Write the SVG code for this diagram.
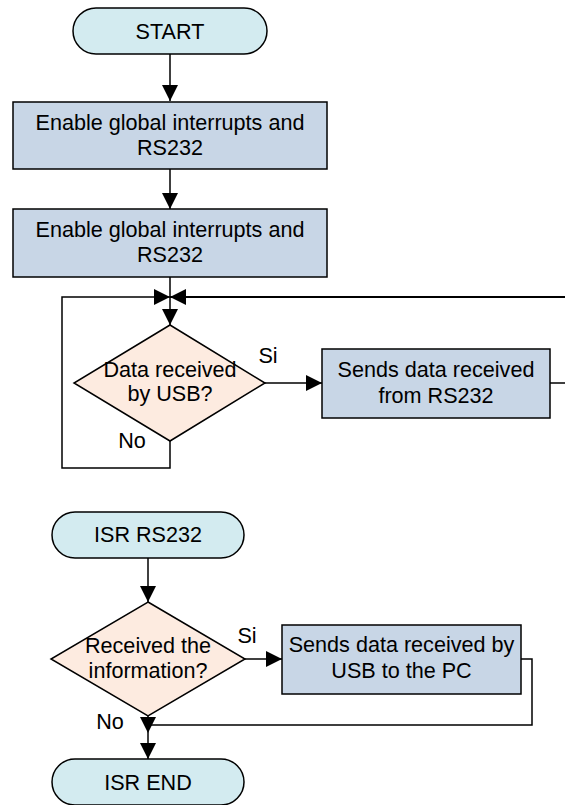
<svg xmlns="http://www.w3.org/2000/svg" width="565" height="805" viewBox="0 0 565 805">
<defs>
<style>
text{font-family:"Liberation Sans",Arial,sans-serif;font-size:21.6px;fill:#000;text-anchor:middle}
.term{fill:#d3ebf0;stroke:#000;stroke-width:1.5}
.proc{fill:#c8d6e6;stroke:#000;stroke-width:1.5}
.dec{fill:#fdebe0;stroke:#000;stroke-width:1.5}
.c{fill:none;stroke:#000;stroke-width:1.5}
</style>
<marker id="ah" markerUnits="userSpaceOnUse" markerWidth="16" markerHeight="16" refX="16" refY="8" orient="auto">
<path d="M0,0 L16,8 L0,16 z" fill="#000"/>
</marker>
</defs>
<g id="connectors">
<path class="c" d="M170,54 V101" marker-end="url(#ah)"/>
<path class="c" d="M170,169 V209" marker-end="url(#ah)"/>
<path class="c" d="M170,277 V325" marker-end="url(#ah)"/>
<path class="c" d="M170,441 V468 H62 V297 H170" marker-end="url(#ah)"/>
<path class="c" style="stroke-width:2" d="M565,297 H170" marker-end="url(#ah)"/>
<path class="c" d="M265,383 H322" marker-end="url(#ah)"/>
<path class="c" d="M550,383 H565"/>
<path class="c" d="M148,558 V602" marker-end="url(#ah)"/>
<path class="c" d="M245,659 H282" marker-end="url(#ah)"/>
<path class="c" d="M521,659 H532 V725 H148"/>
<path class="c" d="M148,716 V733" marker-end="url(#ah)"/>
<path class="c" d="M148,733 V759" marker-end="url(#ah)"/>
<text x="268" y="363">Si</text>
<text x="132" y="448">No</text>
<text x="247" y="643">Si</text>
<text x="110" y="729">No</text>
</g>
<g id="start">
<rect class="term" x="73" y="8" width="194" height="46" rx="23"/>
<text x="170" y="38.5">START</text>
</g>
<g id="init1">
<rect class="proc" x="13" y="102" width="314" height="67"/>
<text x="170" y="130">Enable global interrupts and</text>
<text x="170" y="155">RS232</text>
</g>
<g id="init2">
<rect class="proc" x="13" y="209" width="314" height="68"/>
<text x="170" y="237">Enable global interrupts and</text>
<text x="170" y="262">RS232</text>
</g>
<g id="dec1">
<polygon class="dec" points="170,325 265,383 170,441 74,383"/>
<text x="170" y="377">Data received</text>
<text x="170" y="401">by USB?</text>
</g>
<g id="send1">
<rect class="proc" x="322" y="349" width="228" height="69"/>
<text x="436" y="377">Sends data received</text>
<text x="436" y="403">from RS232</text>
</g>
<g id="isr">
<rect class="term" x="52" y="512" width="192" height="46" rx="23"/>
<text x="148" y="542">ISR RS232</text>
</g>
<g id="dec2">
<polygon class="dec" points="148,602 245,659 148,716 51,659"/>
<text x="148" y="653">Received the</text>
<text x="148" y="678">information?</text>
</g>
<g id="send2">
<rect class="proc" x="282" y="625" width="239" height="69"/>
<text x="401.5" y="652">Sends data received by</text>
<text x="401.5" y="678">USB to the PC</text>
</g>
<g id="isrend">
<rect class="term" x="52" y="759" width="192" height="46" rx="23"/>
<text x="148" y="790">ISR END</text>
</g>
</svg>
